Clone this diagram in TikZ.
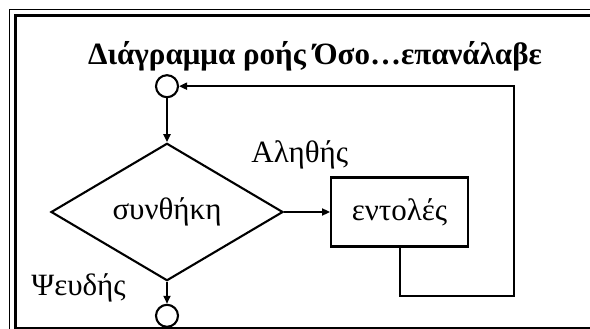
\documentclass[tikz,border=0pt]{standalone}
\usepackage{fontspec}
\setmainfont{Liberation Serif}
\usetikzlibrary{arrows.meta,positioning,shapes.geometric}

\begin{document}
\begin{tikzpicture}[x=1pt,y=-1pt,line width=2.1pt,font=\fontsize{31}{36}\selectfont]
    \tikzstyle{cnd}=[draw,diamond,inner sep=0pt,minimum width=232pt,minimum height=114pt]
    \tikzstyle{pnt}=[draw,circle,inner sep=0pt,minimum size=22pt]
    \tikzstyle{cmd}=[draw,rectangle,inner sep=0pt,minimum width=137pt,minimum height=69pt]
    \tikzstyle{arr}=[-{Triangle[length=8pt,width=7pt]}]
    \useasboundingbox (0,0) rectangle (590,329);
    \clip (0,0) rectangle (590,329);
    % double frame, runs off the page on the right and at the bottom
    \draw[line width=1pt] (9.5,9.5) rectangle (610,340);
    \draw[line width=2.2pt] (15.5,15.5) rectangle (600,328);
    \node[font=\fontsize{31}{36}\selectfont\bfseries,anchor=base] (title) at (315,65) {Διάγραμμα ροής Όσο…επανάλαβε};
    \node[cnd]                (c)   at (167,212) {συνθήκη};
    \node[pnt,above=44pt of c] (top) {};
    \node[pnt,below=22pt of c] (end) {};
    \node[cmd,right=46pt of c] (e)   {εντολές};
    \coordinate[below right=48pt and 114pt of e.south] (back);
    \node[anchor=base west] (yes) at (247,162) {Αληθής};
    \node[anchor=base west] (no)  at (27,295)  {Ψευδής};
    \draw[arr] (top) -- (c);
    \draw[arr] (c) -- (e);
    \draw[arr] (c) -- (end);
    \draw[arr] (e.south) |- (back) |- (top);
\end{tikzpicture}
\end{document}
